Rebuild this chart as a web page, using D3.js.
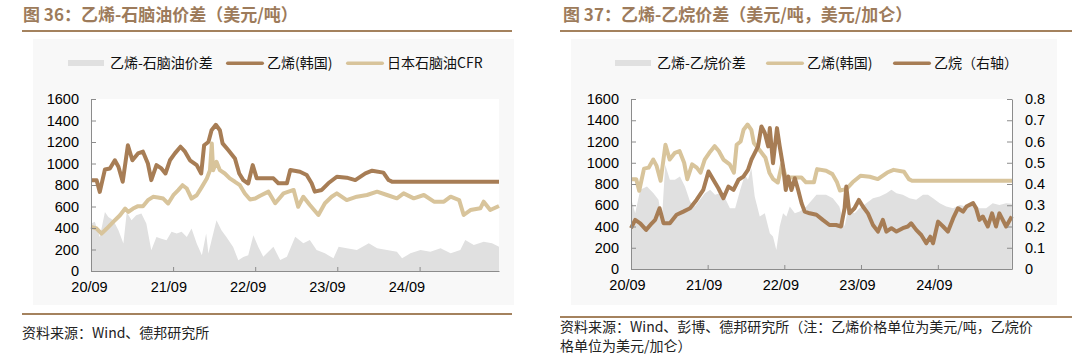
<!DOCTYPE html>
<html>
<head>
<meta charset="utf-8">
<script src="https://cdn.jsdelivr.net/npm/d3@7"></script>
<style>
body { margin: 0; background: #fff; }
svg { display: block; }
</style>
</head>
<body>
<svg width="1072" height="358"></svg>
<script>
var parseDate = d3.timeParse("%Y-%m-%d");
var parseTick = d3.timeParse("%y/%m");

// x tick labels shared by both charts
var xTickLabels = ["20/09", "21/09", "22/09", "23/09", "24/09"];
var leftAxisTicks = [0, 200, 400, 600, 800, 1000, 1200, 1400, 1600];
var rightAxisTicks = [0, 0.1, 0.2, 0.3, 0.4, 0.5, 0.6, 0.7, 0.8];
var dateRange = ["2020-09-01", "2025-08-20"];

// 乙烯(韩国), USD/t
var ethyleneKorea = [
  ["2020-09-01", 845], ["2020-09-26", 845], ["2020-10-10", 736], ["2020-11-02", 945], ["2020-11-24", 954],
  ["2020-12-16", 1030], ["2021-01-01", 970], ["2021-01-20", 830], ["2021-02-12", 1170], ["2021-03-04", 1030],
  ["2021-03-29", 1094], ["2021-04-20", 1110], ["2021-05-12", 1000], ["2021-05-27", 845], ["2021-06-19", 985],
  ["2021-07-11", 954], ["2021-07-29", 907], ["2021-08-18", 1030], ["2021-09-09", 1094], ["2021-10-04", 1156],
  ["2021-10-24", 1110], ["2021-11-15", 1030], ["2021-12-15", 985], ["2022-01-04", 907], ["2022-01-17", 1170],
  ["2022-02-05", 1200], ["2022-02-19", 1310], ["2022-03-10", 1360], ["2022-03-28", 1310], ["2022-04-09", 1187],
  ["2022-05-04", 1125], ["2022-06-03", 1047], ["2022-06-22", 907], ["2022-07-10", 845], ["2022-08-01", 814],
  ["2022-08-21", 985], ["2022-09-08", 862], ["2022-11-21", 862], ["2022-12-13", 816], ["2023-01-20", 816],
  ["2023-02-04", 940], ["2023-03-19", 924], ["2023-04-18", 893], ["2023-05-10", 816], ["2023-05-24", 738],
  ["2023-06-24", 754], ["2023-07-23", 816], ["2023-08-30", 877], ["2023-10-13", 868], ["2023-11-20", 846],
  ["2024-01-04", 908], ["2024-02-03", 933], ["2024-03-24", 915], ["2024-04-16", 846], ["2024-05-01", 831],
  ["2025-08-20", 831]
];

// 日本石脑油CFR, USD/t
var naphthaCFR = [
  ["2020-09-01", 410], ["2020-09-26", 395], ["2020-10-18", 348], ["2020-11-10", 395], ["2020-12-09", 457],
  ["2021-01-08", 519], ["2021-01-31", 581], ["2021-02-14", 550], ["2021-03-07", 581], ["2021-03-29", 603],
  ["2021-04-20", 603], ["2021-05-12", 659], ["2021-06-04", 690], ["2021-06-26", 684], ["2021-07-19", 674],
  ["2021-08-10", 628], ["2021-09-02", 705], ["2021-09-24", 752], ["2021-10-13", 798], ["2021-11-01", 767],
  ["2021-11-22", 674], ["2021-12-15", 705], ["2022-01-07", 783], ["2022-01-29", 861], ["2022-02-12", 938],
  ["2022-02-20", 1187], ["2022-02-26", 938], ["2022-03-13", 1016], ["2022-03-28", 938], ["2022-04-19", 907],
  ["2022-05-11", 861], ["2022-06-03", 830], ["2022-06-25", 798], ["2022-07-17", 721], ["2022-08-09", 665],
  ["2022-09-01", 674], ["2022-09-23", 700], ["2022-10-30", 738], ["2022-11-29", 630], ["2023-01-05", 722],
  ["2023-02-19", 754], ["2023-03-11", 598], ["2023-04-03", 691], ["2023-05-02", 614], ["2023-06-09", 521],
  ["2023-07-08", 630], ["2023-08-07", 691], ["2023-08-30", 722], ["2023-10-13", 660], ["2023-11-27", 691],
  ["2024-01-11", 707], ["2024-02-25", 738], ["2024-04-09", 707], ["2024-05-23", 676], ["2024-06-22", 722],
  ["2024-08-06", 676], ["2024-09-20", 707], ["2024-11-04", 645], ["2024-12-18", 645], ["2025-01-17", 691],
  ["2025-02-24", 660], ["2025-03-16", 521], ["2025-04-15", 567], ["2025-05-29", 583], ["2025-06-13", 645],
  ["2025-07-12", 567], ["2025-08-20", 605]
];

// 乙烯-石脑油价差, USD/t
var ethNaphthaSpread = [
  ["2020-09-01", 441], ["2020-09-18", 457], ["2020-10-10", 317], ["2020-11-02", 550], ["2020-11-17", 503],
  ["2020-12-09", 472], ["2021-01-01", 379], ["2021-01-23", 255], ["2021-02-07", 550], ["2021-02-28", 472],
  ["2021-03-21", 519], ["2021-04-13", 534], ["2021-05-05", 441], ["2021-05-27", 193], ["2021-06-19", 317],
  ["2021-07-11", 301], ["2021-08-03", 286], ["2021-08-25", 364], ["2021-09-17", 348], ["2021-10-09", 364],
  ["2021-11-01", 317], ["2021-11-22", 395], ["2021-12-15", 255], ["2022-01-07", 146], ["2022-01-26", 348],
  ["2022-02-05", 162], ["2022-02-19", 286], ["2022-03-13", 472], ["2022-04-04", 379], ["2022-04-26", 317],
  ["2022-05-26", 224], ["2022-06-18", 99], ["2022-07-10", 130], ["2022-08-01", 146], ["2022-08-24", 332],
  ["2022-09-15", 224], ["2022-10-07", 133], ["2022-11-21", 226], ["2022-12-21", 102], ["2023-01-20", 133],
  ["2023-02-26", 319], ["2023-04-03", 257], ["2023-05-02", 288], ["2023-06-01", 195], ["2023-07-08", 164],
  ["2023-08-15", 118], ["2023-09-07", 226], ["2023-10-13", 211], ["2023-11-27", 195], ["2024-01-19", 257],
  ["2024-02-25", 211], ["2024-04-09", 195], ["2024-05-23", 180], ["2024-06-15", 118], ["2024-07-22", 164],
  ["2024-09-05", 195], ["2024-10-19", 180], ["2024-12-03", 211], ["2025-01-17", 164], ["2025-03-01", 195],
  ["2025-03-23", 288], ["2025-04-30", 242], ["2025-06-13", 273], ["2025-07-20", 257], ["2025-08-20", 226]
];

// 乙烷, USD/gal (right axis)
var ethanePrice = [
  ["2020-09-01", 0.192], ["2020-09-21", 0.231], ["2020-10-15", 0.215], ["2020-11-12", 0.184], ["2020-12-09", 0.215],
  ["2020-12-25", 0.231], ["2021-01-15", 0.286], ["2021-02-03", 0.215], ["2021-03-05", 0.215], ["2021-04-06", 0.255],
  ["2021-05-08", 0.270], ["2021-06-09", 0.286], ["2021-07-10", 0.325], ["2021-08-11", 0.372], ["2021-09-05", 0.459],
  ["2021-09-28", 0.420], ["2021-10-22", 0.380], ["2021-11-15", 0.333], ["2021-12-09", 0.388], ["2022-01-02", 0.372],
  ["2022-01-26", 0.420], ["2022-02-18", 0.435], ["2022-03-12", 0.467], ["2022-03-28", 0.514], ["2022-04-13", 0.545],
  ["2022-04-29", 0.577], ["2022-05-15", 0.671], ["2022-05-31", 0.640], ["2022-06-16", 0.577], ["2022-06-24", 0.663],
  ["2022-07-09", 0.498], ["2022-07-28", 0.663], ["2022-08-10", 0.577], ["2022-08-26", 0.483], ["2022-09-08", 0.372],
  ["2022-09-19", 0.435], ["2022-10-05", 0.372], ["2022-10-21", 0.427], ["2022-11-06", 0.372], ["2022-11-22", 0.310],
  ["2022-12-07", 0.270], ["2022-12-31", 0.262], ["2023-02-01", 0.255], ["2023-03-03", 0.231], ["2023-04-04", 0.207],
  ["2023-05-05", 0.207], ["2023-05-29", 0.200], ["2023-06-15", 0.286], ["2023-06-23", 0.388], ["2023-07-08", 0.262],
  ["2023-08-01", 0.286], ["2023-08-22", 0.325], ["2023-09-10", 0.294], ["2023-10-04", 0.262], ["2023-10-28", 0.207],
  ["2023-11-21", 0.176], ["2023-12-14", 0.231], ["2023-12-31", 0.176], ["2024-01-24", 0.192], ["2024-02-17", 0.176],
  ["2024-03-18", 0.192], ["2024-04-11", 0.200], ["2024-04-27", 0.215], ["2024-05-21", 0.184], ["2024-06-14", 0.160],
  ["2024-07-08", 0.121], ["2024-07-27", 0.152], ["2024-08-09", 0.121], ["2024-09-02", 0.223], ["2024-09-26", 0.200],
  ["2024-10-19", 0.176], ["2024-11-13", 0.239], ["2024-12-06", 0.286], ["2024-12-30", 0.270], ["2025-01-15", 0.294],
  ["2025-02-16", 0.310], ["2025-03-02", 0.286], ["2025-03-18", 0.231], ["2025-04-03", 0.247], ["2025-04-27", 0.200],
  ["2025-05-17", 0.262], ["2025-06-05", 0.200], ["2025-06-21", 0.262], ["2025-07-23", 0.200], ["2025-08-19", 0.247]
];

// 乙烯-乙烷价差, USD/t
var ethEthaneSpread = [
  ["2020-09-01", 666], ["2020-09-21", 525], ["2020-10-15", 745], ["2020-11-16", 776], ["2020-12-17", 713],
  ["2021-01-10", 651], ["2021-01-26", 462], ["2021-02-11", 981], ["2021-03-05", 839], ["2021-03-29", 839],
  ["2021-04-22", 871], ["2021-05-16", 776], ["2021-06-09", 635], ["2021-07-02", 588], ["2021-07-26", 651],
  ["2021-08-19", 713], ["2021-09-13", 745], ["2021-10-06", 698], ["2021-10-30", 713], ["2021-11-23", 666],
  ["2021-12-16", 572], ["2022-01-10", 572], ["2022-02-03", 745], ["2022-02-25", 886], ["2022-03-12", 839],
  ["2022-03-28", 949], ["2022-04-13", 682], ["2022-05-07", 493], ["2022-05-31", 525], ["2022-06-24", 336],
  ["2022-07-09", 305], ["2022-07-25", 179], ["2022-08-10", 399], ["2022-08-26", 525], ["2022-09-11", 493],
  ["2022-09-27", 588], ["2022-10-21", 525], ["2022-11-13", 541], ["2022-12-15", 588], ["2023-02-01", 698],
  ["2023-03-19", 698], ["2023-04-20", 666], ["2023-05-21", 588], ["2023-06-15", 399], ["2023-07-01", 556],
  ["2023-08-01", 525], ["2023-08-25", 572], ["2023-09-26", 619], ["2023-10-28", 666], ["2023-11-29", 682],
  ["2023-12-31", 713], ["2024-01-24", 745], ["2024-02-17", 713], ["2024-03-18", 698], ["2024-04-19", 666],
  ["2024-05-21", 651], ["2024-06-22", 698], ["2024-07-16", 698], ["2024-08-09", 666], ["2024-09-10", 619],
  ["2024-10-11", 588], ["2024-11-13", 572], ["2024-12-14", 603], ["2025-01-15", 588], ["2025-02-16", 619],
  ["2025-03-18", 572], ["2025-04-19", 572], ["2025-05-20", 619], ["2025-06-21", 603], ["2025-07-23", 619],
  ["2025-08-19", 613]
];

var colors = { dark: "#a77d55", light: "#d8c49b", area: "#e0e0e0", brand: "#a4825e", axis: "#8c8c8c" };
var cjk = "'Noto Sans CJK SC', sans-serif";
var latin = "'Liberation Sans', Arial, sans-serif";

var svg = d3.select("svg");

var toPoints = function(series) {
  return series.map(function(p) { return { date: parseDate(p[0]), value: p[1] }; });
};

var drawChart = function(cfg) {
  var g = svg.append("g");

  // chart frame
  g.append("rect")
    .attr("x", cfg.bgLeft).attr("y", 39)
    .attr("width", cfg.bgRight - cfg.bgLeft).attr("height", 266)
    .attr("fill", "#f8f8f8");
  g.append("rect")
    .attr("x", cfg.left).attr("y", cfg.top)
    .attr("width", cfg.right - cfg.left).attr("height", cfg.bottom - cfg.top)
    .attr("fill", "#fff");

  g.append("text")
    .attr("x", cfg.titleX).attr("y", 21)
    .attr("font-family", cjk).attr("font-weight", "bold").attr("font-size", "17px")
    .attr("fill", "#9d7b5b")
    .text(cfg.title);
  g.append("line")
    .attr("x1", cfg.ruleX1).attr("x2", cfg.ruleX2).attr("y1", 31).attr("y2", 31)
    .attr("stroke", colors.brand).attr("stroke-width", 2);
  g.append("line")
    .attr("x1", cfg.ruleX1).attr("x2", cfg.ruleX2).attr("y1", cfg.footRuleY).attr("y2", cfg.footRuleY)
    .attr("stroke", colors.brand).attr("stroke-width", 2);
  g.selectAll(".source")
    .data(cfg.source)
    .enter()
    .append("text")
    .attr("x", cfg.ruleX1)
    .attr("y", function(d, i) { return cfg.sourceY + i * 19; })
    .attr("font-family", cjk).attr("font-size", "14px").attr("fill", "#222")
    .text(function(d) { return d; });

  var x = d3.scaleTime()
    .domain(dateRange.map(parseDate))
    .range([cfg.left, cfg.right]);
  var y = d3.scaleLinear()
    .domain([0, 1600])
    .range([cfg.bottom, cfg.top]);

  // spread area
  var area = d3.area()
    .x(function(d) { return x(d.date); })
    .y0(y(0))
    .y1(function(d) { return y(d.value); });
  g.append("path")
    .datum(toPoints(cfg.spread))
    .attr("d", area)
    .attr("fill", colors.area);

  cfg.lines.forEach(function(ln) {
    var yy = ln.right ? cfg.y2 : y;
    var line = d3.line()
      .x(function(d) { return x(d.date); })
      .y(function(d) { return yy(d.value); });
    g.append("path")
      .datum(toPoints(ln.data))
      .attr("d", line)
      .attr("fill", "none")
      .attr("stroke", ln.color)
      .attr("stroke-width", 4)
      .attr("stroke-linejoin", "round");
  });

  var styleAxis = function(sel) {
    sel.attr("font-family", latin).attr("font-size", "14.5px");
    sel.select(".domain").attr("stroke", colors.axis);
    sel.selectAll(".tick line").attr("stroke", colors.axis);
    sel.selectAll(".tick text").attr("fill", "#000");
  };

  var xAxis = g.append("g")
    .attr("transform", "translate(0," + cfg.bottom + ")")
    .call(d3.axisBottom(x)
      .tickValues(xTickLabels.map(parseTick))
      .tickSizeInner(-4).tickSizeOuter(0).tickPadding(11)
      .tickFormat(d3.timeFormat("%y/%m")));
  styleAxis(xAxis);
  xAxis.selectAll(".tick text").attr("x", cfg.labelShift);

  var yAxis = g.append("g")
    .attr("transform", "translate(" + cfg.left + ",0)")
    .call(d3.axisLeft(y)
      .tickValues(leftAxisTicks)
      .tickSizeInner(-5).tickSizeOuter(0).tickPadding(12)
      .tickFormat(d3.format("d")));
  styleAxis(yAxis);

  if (cfg.y2) {
    var y2Axis = g.append("g")
      .attr("transform", "translate(" + cfg.right + ",0)")
      .call(d3.axisRight(cfg.y2)
        .tickValues(rightAxisTicks)
        .tickSizeInner(-5).tickSizeOuter(0).tickPadding(13)
        .tickFormat(function(d) { return d === 0 ? "0" : d3.format(".1f")(d); }));
    styleAxis(y2Axis);
  }

  // legend
  var legend = g.selectAll(".legend")
    .data(cfg.legend)
    .enter()
    .append("g")
    .attr("transform", function(d) { return "translate(" + d.x + ",0)"; });
  legend.append("rect")
    .attr("x", 0)
    .attr("y", function(d) { return d.kind === "area" ? 60 : 61.5; })
    .attr("width", function(d) { return d.kind === "area" ? 36 : 38; })
    .attr("height", function(d) { return d.kind === "area" ? 6 : 3.5; })
    .attr("rx", function(d) { return d.kind === "area" ? 0 : 1.7; })
    .attr("fill", function(d) { return d.color; });
  legend.append("text")
    .attr("x", function(d) { return d.kind === "area" ? 42 : 41; })
    .attr("y", 68)
    .attr("font-family", cjk).attr("font-size", "14px").attr("fill", "#111")
    .text(function(d) { return d.label; });
};

drawChart({
  title: "图 36：乙烯-石脑油价差（美元/吨）",
  titleX: 23, ruleX1: 22, ruleX2: 512, footRuleY: 314, sourceY: 338,
  bgLeft: 33, bgRight: 514,
  left: 91, right: 499, top: 99, bottom: 271,
  labelShift: function(d, i) { return -2 - 2.8 * i; },
  spread: ethNaphthaSpread,
  lines: [
    { data: ethyleneKorea, color: colors.dark },
    { data: naphthaCFR, color: colors.light }
  ],
  legend: [
    { label: "乙烯-石脑油价差", kind: "area", color: colors.area, x: 68 },
    { label: "乙烯(韩国)", kind: "line", color: colors.dark, x: 226 },
    { label: "日本石脑油CFR", kind: "line", color: colors.light, x: 346 }
  ],
  source: ["资料来源：Wind、德邦研究所"]
});

drawChart({
  title: "图 37：乙烯-乙烷价差（美元/吨，美元/加仑）",
  titleX: 563, ruleX1: 560, ruleX2: 1072, footRuleY: 317, sourceY: 332,
  bgLeft: 571, bgRight: 1057,
  left: 631, right: 1012, top: 99, bottom: 269,
  y2: d3.scaleLinear().domain([0, 0.8]).range([269, 99]),
  labelShift: function(d, i) { return -4; },
  spread: ethEthaneSpread,
  lines: [
    { data: ethyleneKorea, color: colors.light },
    { data: ethanePrice, color: colors.dark, right: true }
  ],
  legend: [
    { label: "乙烯-乙烷价差", kind: "area", color: colors.area, x: 615 },
    { label: "乙烯(韩国)", kind: "line", color: colors.light, x: 766 },
    { label: "乙烷（右轴）", kind: "line", color: colors.dark, x: 893 }
  ],
  source: ["资料来源：Wind、彭博、德邦研究所（注：乙烯价格单位为美元/吨，乙烷价", "格单位为美元/加仑）"]
});
</script>
</body>
</html>
